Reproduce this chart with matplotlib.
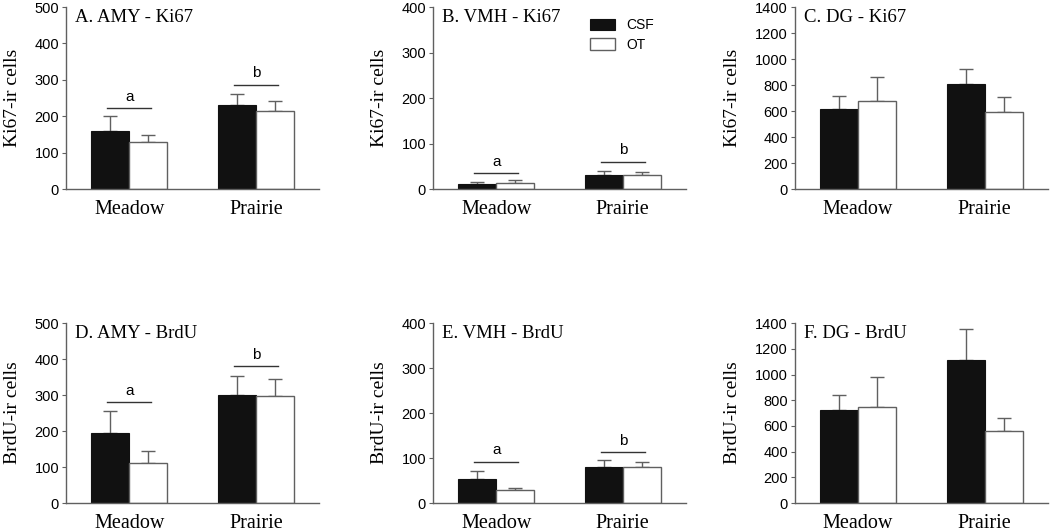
import matplotlib
matplotlib.use("Agg")
import matplotlib.pyplot as plt

groups = ["Meadow", "Prairie"]

titles = ["A. AMY - Ki67", "B. VMH - Ki67", "C. DG - Ki67",
          "D. AMY - BrdU", "E. VMH - BrdU", "F. DG - BrdU"]
ylabels = ["Ki67-ir cells", "Ki67-ir cells", "Ki67-ir cells",
           "BrdU-ir cells", "BrdU-ir cells", "BrdU-ir cells"]
ymax = [500, 400, 1400, 500, 400, 1400]
ystep = [100, 100, 200, 100, 100, 200]

# means (Meadow, Prairie)
csf = [[160, 232], [11, 30], [614, 807],
       [194, 300], [53, 79], [726, 1112]]
ot = [[130, 215], [13, 30], [680, 596],
      [110, 298], [28, 81], [751, 558]]
# upper SEM
csf_err = [[40, 28], [5, 9], [98, 119],
           [62, 53], [19, 16], [113, 244]]
ot_err = [[18, 28], [6, 7], [183, 114],
          [34, 47], [6, 11], [232, 103]]

# significance bars (height, letter) per group, None where absent
sig = [[(222, "a"), (286, "b")], [(35, "a"), (60, "b")], None,
       [(280, "a"), (380, "b")], [(92, "a"), (113, "b")], None]

serif = "Liberation Serif"
sans = "Liberation Sans"
grey = "#606060"

fig = plt.figure(figsize=(10.5, 5.32), dpi=100)
lefts = [0.0629, 0.4124, 0.757]
bottoms = [0.6447, 0.0545]
heights = [0.342, 0.338]
w = 0.3
x = [0, 1]

for i in range(6):
    r, c = divmod(i, 3)
    ax = fig.add_axes([lefts[c], bottoms[r], 0.241, heights[r]])
    xc = [v - w / 2 for v in x]
    xo = [v + w / 2 for v in x]
    ax.bar(xc, csf[i], w, color="#111111", edgecolor="#111111", linewidth=0.8,
           label="CSF", zorder=2)
    ax.bar(xo, ot[i], w, color="white", edgecolor=grey, linewidth=1.0,
           label="OT", zorder=2)
    ax.errorbar(xc, csf[i], yerr=[[0, 0], csf_err[i]], fmt="none", ecolor=grey,
                elinewidth=1.0, capsize=5, capthick=1.0, zorder=1)
    ax.errorbar(xo, ot[i], yerr=[[0, 0], ot_err[i]], fmt="none", ecolor=grey,
                elinewidth=1.0, capsize=5, capthick=1.0, zorder=1)
    if sig[i]:
        for g, (h, letter) in zip(x, sig[i]):
            ax.plot([g - 0.175, g + 0.175], [h, h], color="#333333", lw=1.0)
            ax.text(g, h + ymax[i] * 0.025, letter, ha="center", va="bottom",
                    fontsize=11, family=sans)
    ax.set_xlim(-0.5, 1.5)
    ax.set_ylim(0, ymax[i])
    ax.set_yticks(range(0, ymax[i] + 1, ystep[i]))
    ax.set_xticks(x)
    ax.set_xticklabels(groups, family=serif, fontsize=14.5)
    for t in ax.get_yticklabels():
        t.set_family(sans)
        t.set_fontsize(10.5)
    ax.tick_params(axis="x", length=0, pad=8)
    ax.tick_params(axis="y", length=3, width=0.8, color=grey, pad=2)
    for s in ["top", "right"]:
        ax.spines[s].set_visible(False)
    for s in ["left", "bottom"]:
        ax.spines[s].set_color(grey)
        ax.spines[s].set_linewidth(1.0)
    ax.set_ylabel(ylabels[i], family=serif, fontsize=14, labelpad=10)
    ax.text(0.035, 0.99, titles[i], transform=ax.transAxes, ha="left",
            va="top", family=serif, fontsize=13.5)
    if i == 1:
        ax.legend(loc="upper left", bbox_to_anchor=(0.6, 0.97), frameon=False,
                  prop={"family": sans, "size": 10}, handlelength=1.8,
                  handleheight=0.9, borderaxespad=0, labelspacing=0.4)

fig.savefig("out.png", dpi=100)
